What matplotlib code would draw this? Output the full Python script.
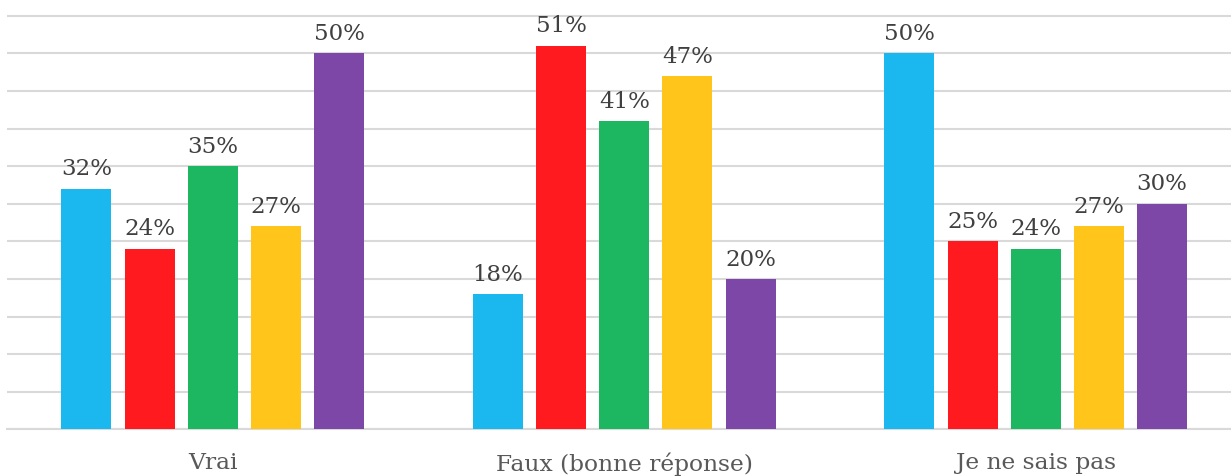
import matplotlib
matplotlib.use("Agg")
import matplotlib.pyplot as plt
import numpy as np

categories = ["Vrai", "Faux (bonne réponse)", "Je ne sais pas"]
series_values = [
    [32, 18, 50],
    [24, 51, 25],
    [35, 41, 24],
    [27, 47, 27],
    [50, 20, 30],
]
colors = ["#1BB8F0", "#FF1A1F", "#1CB760", "#FFC51B", "#7D47A8"]

fig = plt.figure(figsize=(12.31, 4.76), dpi=100)
# axis spans beyond the right edge so the three category slots are equal
px_per_unit = (429.3 - 15.7) / 55
y_top = 56
left, bottom = 7 / 1231, (476 - 429.3) / 476
width = (3 * 411.5) / 1231
height = (y_top * px_per_unit) / 476
ax = fig.add_axes([left, bottom, width, height])

x = np.arange(len(categories))
bar_w = 0.1215
step = 0.1536
n = len(series_values)
for i, vals in enumerate(series_values):
    pos = x + (i - (n - 1) / 2) * step
    bars = ax.bar(pos, vals, width=bar_w, color=colors[i], zorder=3)
    for b, v in zip(bars, vals):
        ax.annotate(f"{v}%", (b.get_x() + b.get_width() / 2, v),
                    xytext=(0, 6), textcoords="offset points",
                    ha="center", va="bottom", fontsize=16.5,
                    family="DejaVu Serif", color="#404040")

ax.set_xlim(-0.5, len(categories) - 0.5)
ax.set_ylim(0, y_top)
ax.set_yticks(np.arange(0, 56, 5))
ax.yaxis.grid(True, color="#d9d9d9", linewidth=1.5, zorder=0)
ax.set_axisbelow(True)
ax.tick_params(axis="y", left=False, labelleft=False)
ax.tick_params(axis="x", bottom=False, pad=13)
ax.set_xticks(x)
ax.set_xticklabels(categories, family="DejaVu Serif", fontsize=16.8, color="#595959")
for s in ["top", "right", "left"]:
    ax.spines[s].set_visible(False)
ax.spines["bottom"].set_color("#d9d9d9")
ax.spines["bottom"].set_linewidth(1.5)

fig.savefig("out.png", dpi=100)
